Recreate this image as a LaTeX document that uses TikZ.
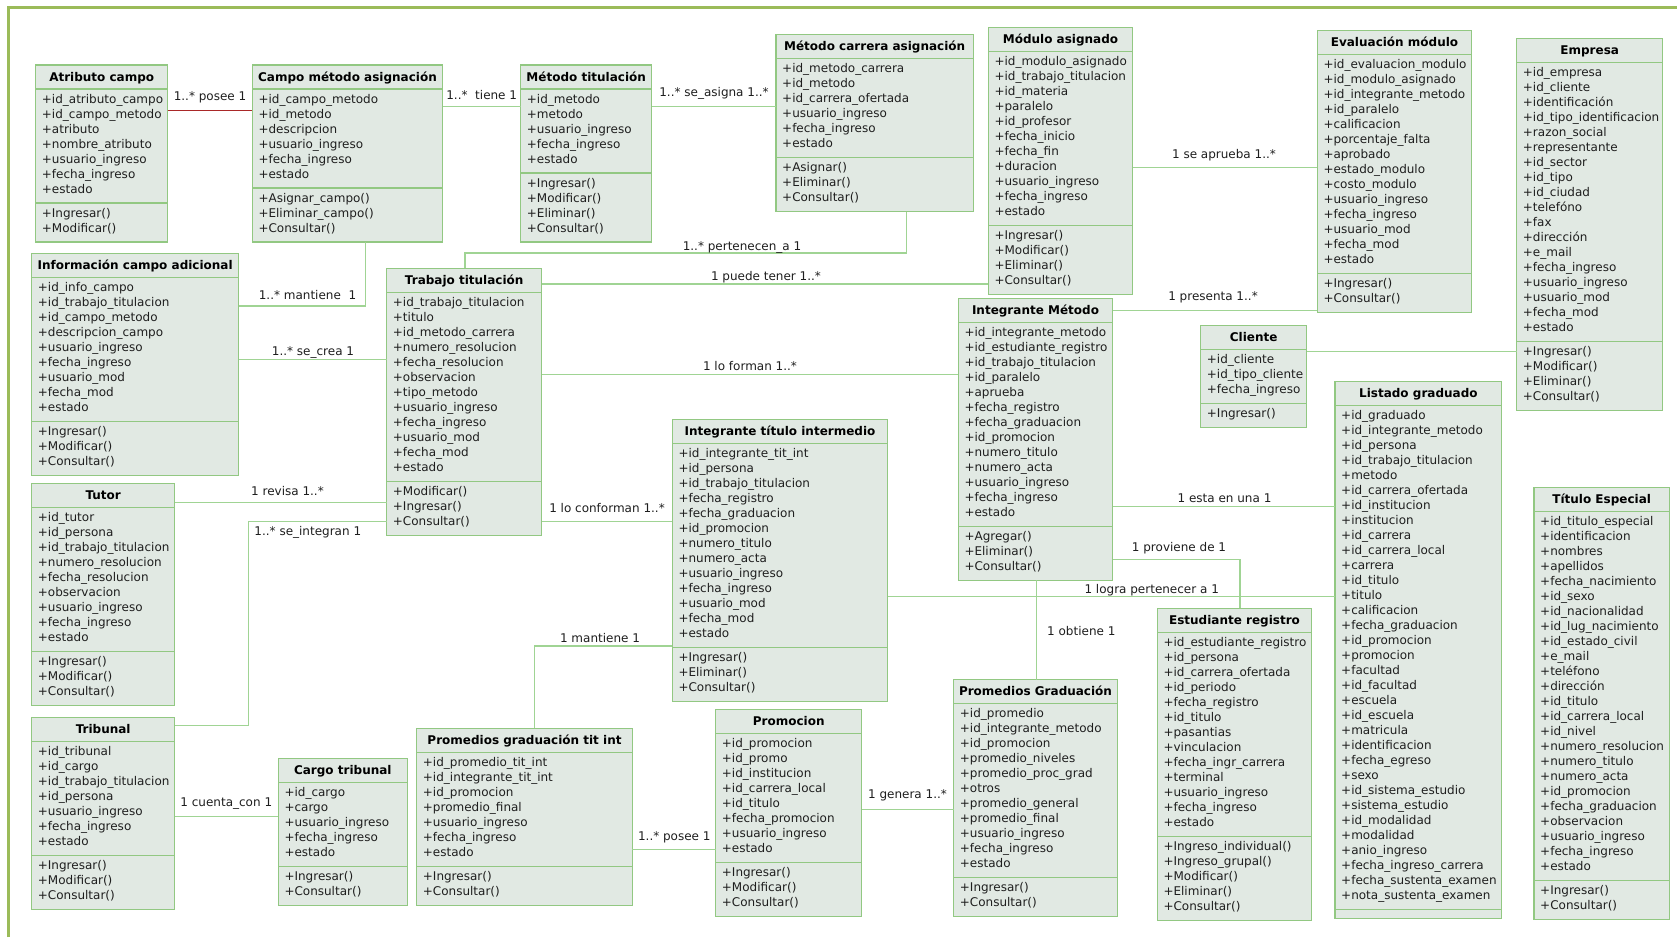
\documentclass[tikz,border=0pt]{standalone}
\usepackage{fontspec}
\setmainfont{DejaVu Sans}
\usetikzlibrary{calc}
\definecolor{boxfill}{RGB}{225,233,227}
\definecolor{boxline}{RGB}{146,200,130}
\definecolor{conncol}{RGB}{160,212,148}
\definecolor{framecol}{RGB}{155,187,89}
\definecolor{redcol}{RGB}{170,40,40}
\definecolor{txtcol}{RGB}{30,30,30}
\tikzset{
  cls/.style={draw=boxline, fill=boxfill, line width=1.3pt, inner sep=0pt, outer sep=0pt},
  sepline/.style={draw=boxline, line width=1.3pt},
  ttl/.style={anchor=base, inner sep=0pt, font=\bfseries\fontsize{12}{15}\selectfont, text=black},
  itm/.style={anchor=base west, inner sep=0pt, font=\fontsize{12}{15}\selectfont, text=txtcol},
  lbl/.style={anchor=base, inner sep=0pt, font=\fontsize{12}{15}\selectfont, text=txtcol},
  con/.style={draw=conncol, line width=1.3pt},
  redcon/.style={draw=redcol, line width=1.1pt},
}
% #1 name, #2 x, #3 y, #4 w, #5 title, #6 nA, #7 attrs, #8 nM, #9 meths
\newcommand{\umlclass}[9]{%
  \pgfmathsetmacro{\hA}{15*#6+9}%
  \pgfmathsetmacro{\hM}{15*#8+9}%
  \pgfmathsetmacro{\hT}{24+\hA+\hM}%
  \node[cls, minimum width=#4pt, minimum height=\hT pt, anchor=north west] (#1) at (#2,#3) {};
  \draw[sepline] (#2,#3+24) -- ++(#4,0);
  \draw[sepline] (#2,#3+24+\hA) -- ++(#4,0);
  \node[ttl] (#1-title) at (#2+#4/2, #3+16) {#5};
  \foreach \ent [count=\nn] in {#7} {\node[itm] at (#2+6, #3+38+15*\nn-15) {\ent};}
  \foreach \ent [count=\nn] in {#9} {\node[itm] at (#2+6, #3+24+\hA+14+15*\nn-15) {\ent};}
}
\begin{document}
\catcode`\_=12
\begin{tikzpicture}[x=1pt,y=-1pt]
\useasboundingbox (0,0) rectangle (1677,937);
\fill[white] (0,0) rectangle (1677,937);
\draw[framecol, line width=3pt] (8,937) -- (8,7) -- (1677,7);

\umlclass{atr}{35.7}{65}{132}{Atributo campo}{7}{+id_atributo_campo,+id_campo_metodo,+atributo,+nombre_atributo,+usuario_ingreso,+fecha_ingreso,+estado}{2}{+Ingresar(),+Modificar()}
\umlclass{cma}{252.3}{65}{190.4}{Campo método asignación}{6}{+id_campo_metodo,+id_metodo,+descripcion,+usuario_ingreso,+fecha_ingreso,+estado}{3}{+Asignar_campo(),+Eliminar_campo(),+Consultar()}
\umlclass{mtit}{520.7}{65}{131}{Método titulación}{5}{+id_metodo,+metodo,+usuario_ingreso,+fecha_ingreso,+estado}{4}{+Ingresar(),+Modificar(),+Eliminar(),+Consultar()}
\umlclass{mca}{776}{34.5}{197.3}{Método carrera asignación}{6}{+id_metodo_carrera,+id_metodo,+id_carrera_ofertada,+usuario_ingreso,+fecha_ingreso,+estado}{3}{+Asignar(),+Eliminar(),+Consultar()}
\umlclass{mod}{988.3}{27.3}{144.4}{Módulo asignado}{11}{+id_modulo_asignado,+id_trabajo_titulacion,+id_materia,+paralelo,+id_profesor,+fecha_inicio,+fecha_fin,+duracion,+usuario_ingreso,+fecha_ingreso,+estado}{4}{+Ingresar(),+Modificar(),+Eliminar(),+Consultar()}
\umlclass{eval}{1317.3}{30.7}{154.4}{Evaluación módulo}{14}{+id_evaluacion_modulo,+id_modulo_asignado,+id_integrante_metodo,+id_paralelo,+calificacion,+porcentaje_falta,+aprobado,+estado_modulo,+costo_modulo,+usuario_ingreso,+fecha_ingreso,+usuario_mod,+fecha_mod,+estado}{2}{+Ingresar(),+Consultar()}
\umlclass{emp}{1516.7}{38.7}{146}{Empresa}{18}{+id_empresa,+id_cliente,+identificación,+id_tipo_identificacion,+razon_social,+representante,+id_sector,+id_tipo,+id_ciudad,+telefóno,+fax,+dirección,+e_mail,+fecha_ingreso,+usuario_ingreso,+usuario_mod,+fecha_mod,+estado}{4}{+Ingresar(),+Modificar(),+Eliminar(),+Consultar()}
\umlclass{info}{31.7}{253.3}{207}{Información campo adicional}{9}{+id_info_campo,+id_trabajo_titulacion,+id_campo_metodo,+descripcion_campo,+usuario_ingreso,+fecha_ingreso,+usuario_mod,+fecha_mod,+estado}{3}{+Ingresar(),+Modificar(),+Consultar()}
\umlclass{trab}{386.7}{268.3}{155}{Trabajo titulación}{12}{+id_trabajo_titulacion,+titulo,+id_metodo_carrera,+numero_resolucion,+fecha_resolucion,+observacion,+tipo_metodo,+usuario_ingreso,+fecha_ingreso,+usuario_mod,+fecha_mod,+estado}{3}{+Modificar(),+Ingresar(),+Consultar()}
\umlclass{tutor}{31.7}{483.3}{143}{Tutor}{9}{+id_tutor,+id_persona,+id_trabajo_titulacion,+numero_resolucion,+fecha_resolucion,+observacion,+usuario_ingreso,+fecha_ingreso,+estado}{3}{+Ingresar(),+Modificar(),+Consultar()}
\umlclass{trib}{31.7}{717.7}{143}{Tribunal}{7}{+id_tribunal,+id_cargo,+id_trabajo_titulacion,+id_persona,+usuario_ingreso,+fecha_ingreso,+estado}{3}{+Ingresar(),+Modificar(),+Consultar()}
\umlclass{cargo}{278.3}{758.7}{129}{Cargo tribunal}{5}{+id_cargo,+cargo,+usuario_ingreso,+fecha_ingreso,+estado}{2}{+Ingresar(),+Consultar()}
\umlclass{pti}{416.7}{728.3}{215.6}{Promedios graduación tit int}{7}{+id_promedio_tit_int,+id_integrante_tit_int,+id_promocion,+promedio_final,+usuario_ingreso,+fecha_ingreso,+estado}{2}{+Ingresar(),+Consultar()}
\umlclass{promo}{715.7}{709.7}{146}{Promocion}{8}{+id_promocion,+id_promo,+id_institucion,+id_carrera_local,+id_titulo,+fecha_promocion,+usuario_ingreso,+estado}{3}{+Ingresar(),+Modificar(),+Consultar()}
\umlclass{iti}{672.3}{419.3}{215.4}{Integrante título intermedio}{13}{+id_integrante_tit_int,+id_persona,+id_trabajo_titulacion,+fecha_registro,+fecha_graduacion,+id_promocion,+numero_titulo,+numero_acta,+usuario_ingreso,+fecha_ingreso,+usuario_mod,+fecha_mod,+estado}{3}{+Ingresar(),+Eliminar(),+Consultar()}
\umlclass{intm}{958.3}{298.3}{154.4}{Integrante Método}{13}{+id_integrante_metodo,+id_estudiante_registro,+id_trabajo_titulacion,+id_paralelo,+aprueba,+fecha_registro,+fecha_graduacion,+id_promocion,+numero_titulo,+numero_acta,+usuario_ingreso,+fecha_ingreso,+estado}{3}{+Agregar(),+Eliminar(),+Consultar()}
\umlclass{cli}{1200.7}{325.3}{106}{Cliente}{3}{+id_cliente,+id_tipo_cliente,+fecha_ingreso}{1}{+Ingresar()}
\umlclass{lis}{1335}{381.7}{166.7}{Listado graduado}{33}{+id_graduado,+id_integrante_metodo,+id_persona,+id_trabajo_titulacion,+metodo,+id_carrera_ofertada,+id_institucion,+institucion,+id_carrera,+id_carrera_local,+carrera,+id_titulo,+titulo,+calificacion,+fecha_graduacion,+id_promocion,+promocion,+facultad,+id_facultad,+escuela,+id_escuela,+matricula,+identificacion,+fecha_egreso,+sexo,+id_sistema_estudio,+sistema_estudio,+id_modalidad,+modalidad,+anio_ingreso,+fecha_ingreso_carrera,+fecha_sustenta_examen,+nota_sustenta_examen}{0}{}
\umlclass{tesp}{1534}{487.3}{135.3}{Título Especial}{24}{+id_titulo_especial,+identificacion,+nombres,+apellidos,+fecha_nacimiento,+id_sexo,+id_nacionalidad,+id_lug_nacimiento,+id_estado_civil,+e_mail,+teléfono,+dirección,+id_titulo,+id_carrera_local,+id_nivel,+numero_resolucion,+numero_titulo,+numero_acta,+id_promocion,+fecha_graduacion,+observacion,+usuario_ingreso,+fecha_ingreso,+estado}{2}{+Ingresar(),+Consultar()}
\umlclass{est}{1157.3}{608.3}{154.4}{Estudiante registro}{13}{+id_estudiante_registro,+id_persona,+id_carrera_ofertada,+id_periodo,+fecha_registro,+id_titulo,+pasantias,+vinculacion,+fecha_ingr_carrera,+terminal,+usuario_ingreso,+fecha_ingreso,+estado}{5}{+Ingreso_individual(),+Ingreso_grupal(),+Modificar(),+Eliminar(),+Consultar()}
\umlclass{pg}{953.7}{679.7}{163.6}{Promedios Graduación}{11}{+id_promedio,+id_integrante_metodo,+id_promocion,+promedio_niveles,+promedio_proc_grad,+otros,+promedio_general,+promedio_final,+usuario_ingreso,+fecha_ingreso,+estado}{2}{+Ingresar(),+Consultar()}

% connectors
\draw[redcon] (atr.east |- 0,110.3) -- (cma.west |- 0,110.3);
\node[lbl] (l1) at (210,100.7) {1..* posee 1};
\draw[con] (cma.east |- 0,106.7) -- (mtit.west |- 0,106.7);
\node[lbl] (l2) at (481.7,99) {1..*\ \ tiene 1};
\draw[con] (mtit.east |- 0,106.7) -- (mca.west |- 0,106.7);
\node[lbl] (l3) at (714,96.7) {1..* se_asigna 1..*};
\draw[con] (mca.south -| 906.7,0) -- ++(0,41.6) -| (trab.north -| 465,0);
\node[lbl] (l4) at (742,250.7) {1..* pertenecen_a 1};
\draw[con] (trab.east |- 0,284) -- (mod.west |- 0,284);
\node[lbl] (l5) at (766,280.7) {1 puede tener 1..*};
\draw[con] (mod.east |- 0,167.3) -- (eval.west |- 0,167.3);
\node[lbl] (l6) at (1224,158.3) {1 se aprueba 1..*};
\draw[con] (intm.east |- 0,310.7) -- (eval.west |- 0,310.7);
\node[lbl] (l7) at (1213,300.7) {1 presenta 1..*};
\draw[con] (cli.east |- 0,351.7) -- (emp.west |- 0,351.7);
\draw[con] (cma.south -| 365.7,0) |- (info.east |- 0,306);
\node[lbl] (l9) at (307.5,299.7) {1..* mantiene\ \ 1};
\draw[con] (info.east |- 0,359.3) -- (trab.west |- 0,359.3);
\node[lbl] (l10) at (313,355.7) {1..* se_crea 1};
\draw[con] (trab.east |- 0,374.3) -- (intm.west |- 0,374.3);
\node[lbl] (l11) at (750,370.7) {1 lo forman 1..*};
\draw[con] (tutor.east |- 0,502.7) -- (trab.west |- 0,502.7);
\node[lbl] (l12) at (287.5,495.7) {1 revisa 1..*};
\draw[con] (trab.west |- 0,521.3) -| (248.3,725.3) -- (trib.east |- 0,725.3);
\node[lbl] (l13) at (307.8,535.7) {1..* se_integran 1};
\draw[con] (trab.east |- 0,521.3) -- (iti.west |- 0,521.3);
\node[lbl] (l14) at (607,512) {1 lo conforman 1..*};
\draw[con] (intm.east |- 0,506.3) -- (lis.west |- 0,506.3);
\node[lbl] (l15) at (1224.5,502.7) {1 esta en una 1};
\draw[con] (intm.east |- 0,559.3) -| (est.north -| 1240,0);
\node[lbl] (l16) at (1179,551.7) {1 proviene de 1};
\draw[con] (iti.east |- 0,596.7) -- (lis.west |- 0,596.7);
\node[lbl] (l17) at (1151.7,593.3) {1 logra pertenecer a 1};
\draw[con] (intm.south -| 1036.7,0) -- (pg.north -| 1036.7,0);
\node[lbl] (l18) at (1081.3,635.7) {1 obtiene 1};
\draw[con] (iti.west |- 0,646) -| (pti.north -| 534.7,0);
\node[lbl] (l19) at (600,642.3) {1 mantiene 1};
\draw[con] (pti.east |- 0,849.3) -- (promo.west |- 0,849.3);
\node[lbl] (l20) at (674.3,840) {1..* posee 1};
\draw[con] (promo.east |- 0,809.3) -- (pg.west |- 0,809.3);
\node[lbl] (l21) at (907.5,798.3) {1 genera 1..*};
\draw[con] (trib.east |- 0,816.7) -- (cargo.west |- 0,816.7);
\node[lbl] (l22) at (226.3,806.7) {1 cuenta_con 1};
\end{tikzpicture}
\end{document}
